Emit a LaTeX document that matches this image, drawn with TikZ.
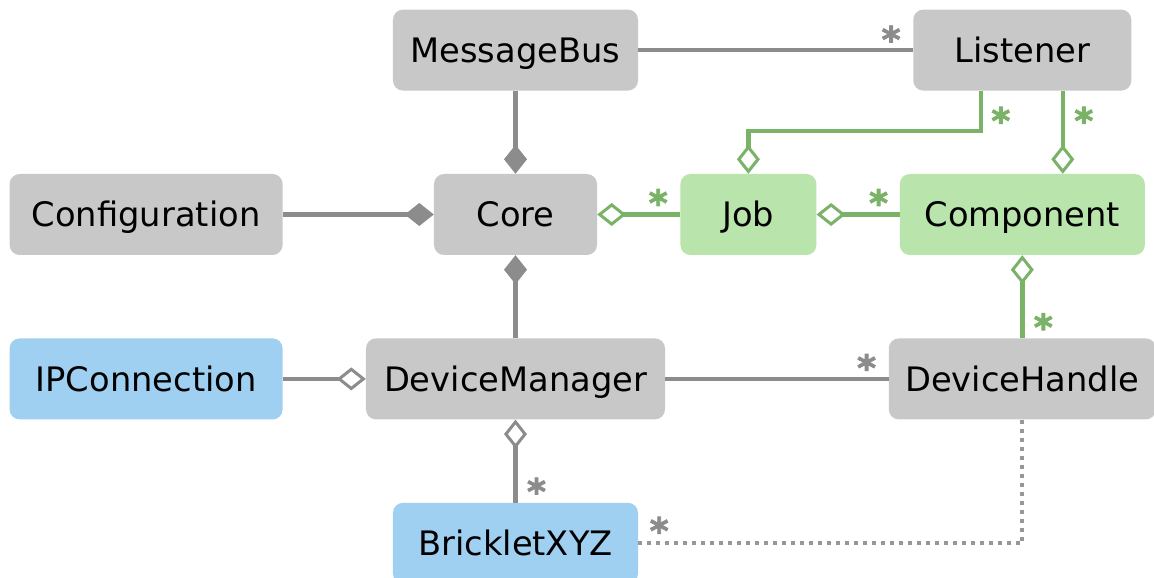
\documentclass[tikz,border=0pt]{standalone}
\usepackage{fontspec}
\setmainfont{DejaVu Sans}
\newfontfamily\multfont{DejaVu Sans}[FakeBold=2.5]
\usetikzlibrary{positioning,arrows.meta}
\definecolor{boxgray}{HTML}{C8C8C8}
\definecolor{boxgreen}{HTML}{B9E4AB}
\definecolor{boxblue}{HTML}{9FD0F2}
\definecolor{linegray}{HTML}{8C8C8C}
\definecolor{linegreen}{HTML}{7AB268}

\begin{document}
\begin{tikzpicture}[
  node distance=83pt,
  cls/.style={rounded corners=10pt, minimum height=81pt, inner sep=0pt,
    text height=24.6pt, text depth=0pt, font=\fontsize{33.7pt}{40pt}\selectfont},
  plain/.style={cls, fill=boxgray},
  comp/.style={cls, fill=boxgreen},
  hw/.style={cls, fill=boxblue},
  gline/.style={draw=linegray, line width=4.5pt},
  grline/.style={draw=linegreen, line width=4.5pt},
  dotline/.style={draw=linegray!90, line width=4pt, dash pattern=on 4.5pt off 4.5pt},
  filled/.style={-{Diamond[length=29pt,width=23pt]}},
  hollow/.style={-{Diamond[open,length=29pt,width=23pt,line width=3pt]}},
  mult/.style={inner sep=0pt, font=\multfont\bfseries\fontsize{36pt}{42pt}\selectfont},
  gmult/.style={mult, text=linegray},
  grmult/.style={mult, text=linegreen},
]
\useasboundingbox (-515.5pt,-363.5pt) rectangle (638.5pt,214.5pt);

% classes
\node[plain, minimum width=163pt] (core) {Core};
\node[plain, minimum width=245pt, above=of core] (bus) {MessageBus};
\node[plain, minimum width=273pt, left=151pt of core] (config) {Configuration};
\node[comp, minimum width=136pt, right=of core] (job) {Job};
\node[comp, minimum width=245pt, right=of job] (component) {Component};
\node[plain, minimum width=218pt, above=of component] (listener) {Listener};
\node[plain, minimum width=299pt, below=of core] (devmgr) {DeviceManager};
\node[hw, minimum width=273pt, left=of devmgr] (ipcon) {IPConnection};
\node[plain, minimum width=267pt, below=of component] (handle) {DeviceHandle};
\node[hw, minimum width=245pt, below=of devmgr] (bricklet) {BrickletXYZ};

% associations
\draw[gline] (bus) -- node[gmult, pos=1, xshift=-22pt, yshift=11pt] (m1) {*} (listener);
\draw[gline, filled] (bus) -- (core);
\draw[gline, filled] (config) -- (core);
\draw[gline, filled] (devmgr) -- (core);
\draw[grline, hollow] (job) -- node[grmult, pos=0, xshift=-22pt, yshift=12pt] (m2) {*} (core);
\draw[grline, hollow] (component) -- node[grmult, pos=0, xshift=-21pt, yshift=12pt] (m3) {*} (job);
\draw[grline, hollow] ([xshift=-41.5pt]listener.south) -- node[grmult, pos=0, xshift=20pt, yshift=-29.5pt] (m4) {*} ++(0,-40pt) -| (job.north);
\draw[grline, hollow] ([xshift=40.5pt]listener.south) -- node[grmult, pos=0, xshift=21pt, yshift=-29.5pt] (m5) {*} ([xshift=40.5pt]component.north);
\draw[gline] (devmgr) -- node[gmult, pos=1, xshift=-22pt, yshift=11.5pt] (m6) {*} (handle);
\draw[grline, hollow] (handle) -- node[grmult, pos=0, xshift=21pt, yshift=11.5pt] (m7) {*} (component);
\draw[gline, hollow] (ipcon) -- (devmgr);
\draw[gline, hollow] (bricklet) -- node[gmult, pos=0, xshift=21pt, yshift=11.5pt] (m8) {*} (devmgr);
\draw[dotline] (handle) |- node[gmult, pos=1, xshift=21pt, yshift=13pt] (m9) {*} (bricklet);
\end{tikzpicture}
\end{document}
